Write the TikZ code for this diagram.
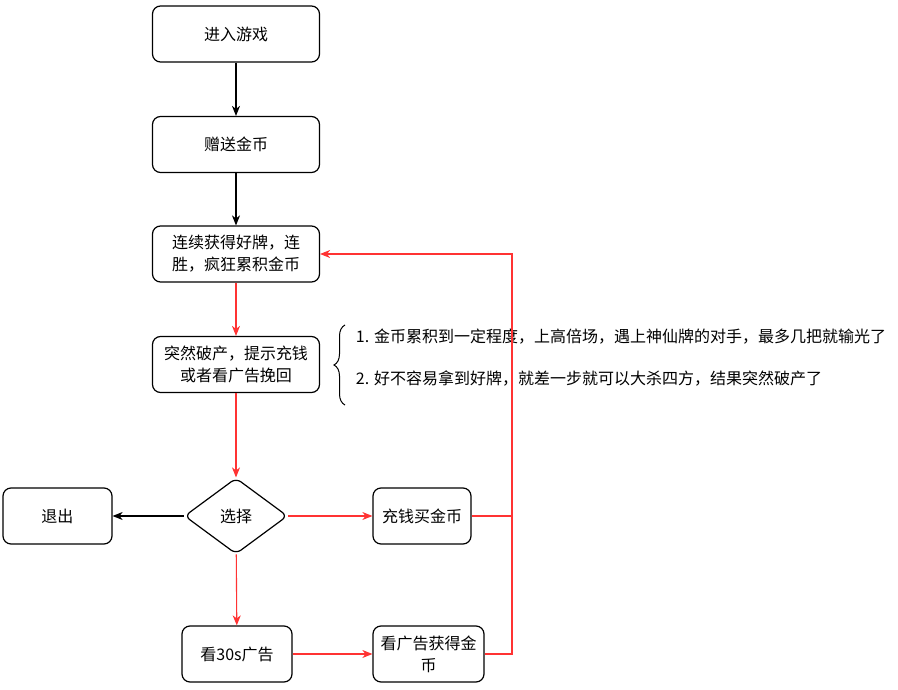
\documentclass[tikz,border=0pt]{standalone}
\usepackage{fontspec}
\newfontfamily\cjk{Noto Sans CJK SC}
\usetikzlibrary{arrows.meta,shapes.geometric,decorations.pathreplacing}
\definecolor{flowRed}{HTML}{FF3333}

\begin{document}
\begin{tikzpicture}[
  x=1pt, y=-1pt,
  >={Stealth[length=10pt,width=8pt,inset=3pt]},
  line width=1.2pt,
  every node/.style={font=\cjk\fontsize{16}{22}\selectfont},
  box/.style={draw, rounded corners=8pt, align=center, inner sep=0pt,
    minimum height=56pt},
  choice/.style={draw, diamond, rounded corners=6pt, inner sep=0pt,
    minimum width=103pt, minimum height=76pt},
  redline/.style={flowRed, line width=1.1pt}
]
  \useasboundingbox (0,0) rectangle (898,690);

  % Main column
  \node[box, minimum width=167pt] (enter) at (236,34) {进入游戏};
  \node[box, minimum width=167pt] (gift) at (236,144.5) {赠送金币};
  \node[box, minimum width=167pt] (streak) at (236,254)
    {连续获得好牌，连\\胜，疯狂累积金币};
  \node[box, minimum width=167pt] (broke) at (236,364.5)
    {突然破产，提示充钱\\或者看广告挽回};
  \node[choice] (choose) at (236,516) {选择};

  % Branches
  \node[box, minimum width=109pt] (quit) at (57.5,516) {退出};
  \node[box, minimum width=98pt] (buy) at (422,516) {充钱买金币};
  \node[box, minimum width=110pt] (watch) at (237,654) {看30s广告};
  \node[box, minimum width=111pt] (adgold) at (428.5,654)
    {看广告获得金\\币};

  % Notes with brace
  \draw[line width=1pt, decorate, decoration={brace, amplitude=11pt}]
    (345,405) -- (345,325);
  \node[anchor=west] (note1) at (352,337)
    {1. 金币累积到一定程度，上高倍场，遇上神仙牌的对手，最多几把就输光了};
  \node[anchor=west] (note2) at (352,378)
    {2. 好不容易拿到好牌，就差一步就可以大杀四方，结果突然破产了};

  % Black flow
  \draw[->] (enter) -- (gift);
  \draw[->] (gift) -- (streak);
  \draw[->] (choose) -- (quit);

  % Red flow
  \draw[redline, ->] (streak) -- (broke);
  \draw[redline, ->] (broke) -- (choose);
  \draw[redline, ->] (choose) -- (buy);
  \draw[redline, ->] (choose) -- (watch);
  \draw[redline, ->] (watch) -- (adgold);

  % Loop back
  \coordinate (bus) at (512,254);
  \draw[redline, ->] (buy.east) -| (bus) -- (streak.east);
  \draw[redline] (adgold.east) -| (bus);
\end{tikzpicture}
\end{document}
